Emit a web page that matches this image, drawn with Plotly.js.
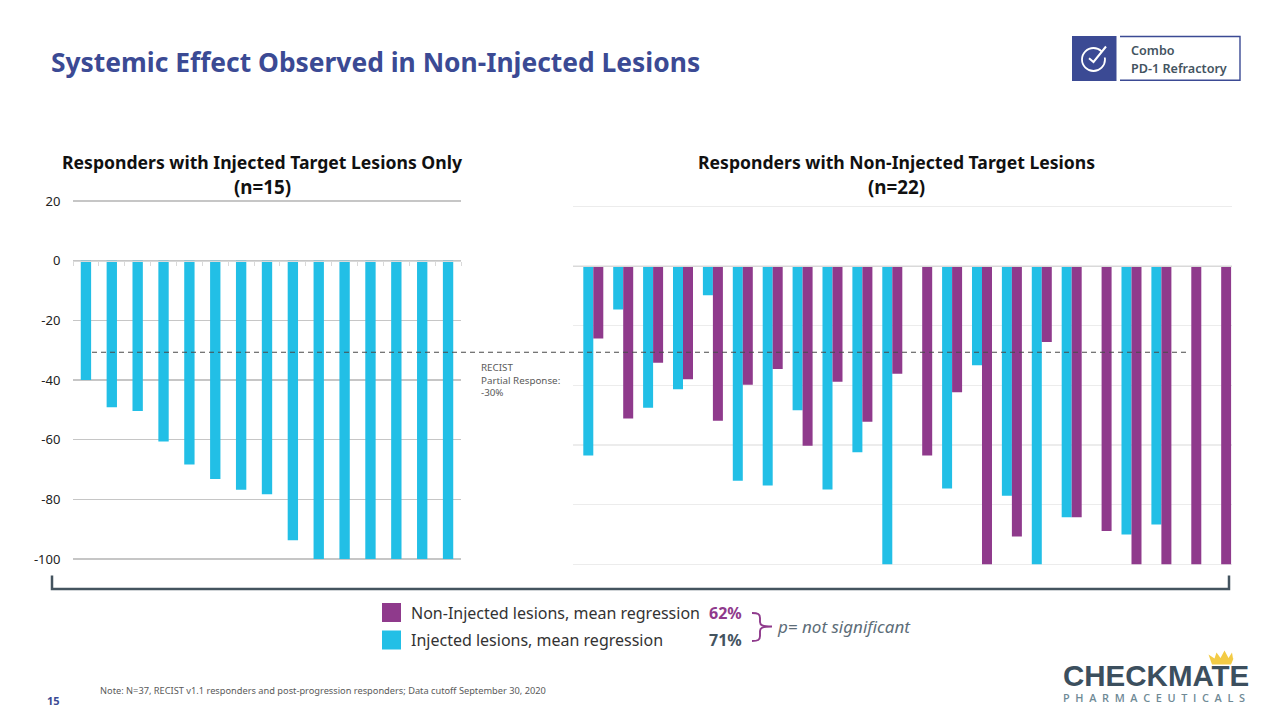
<!DOCTYPE html>
<html><head><meta charset="utf-8">
<script src="https://cdn.plot.ly/plotly-3.0.1.min.js"></script>
<style>html,body{margin:0;padding:0;background:#fff}#c{width:1280px;height:720px}</style></head>
<body><div id="c"></div>
<script>
const leftPatients = [1,2,3,4,5,6,7,8,9,10,11,12,13,14,15];
const leftInjected = [-40,-49.1,-50.4,-60.6,-68.3,-73.2,-76.8,-78.3,-93.7,-100,-100,-100,-100,-100,-100];
const rightPatients = [1,2,3,4,5,6,7,8,9,10,11,12,13,14,15,16,17,18,19,20,21,22];
const rightInjected = [-63.5,-14.6,-47.5,-41.3,-9.8,-72,-73.6,-48.4,-74.9,-62.4,-100,null,-74.6,-33.3,-77,-100,-84.2,null,-90,-86.7,null,null];
const rightNonInjected = [-24.3,-51.1,-32.4,-38,-51.9,-39.8,-34.5,-60.3,-38.8,-52.2,-36.1,-63.5,-42.3,-100,-90.7,-25.5,-84.2,-88.8,-100,-100,-100,-100];
const yTicks = [20,0,-20,-40,-60,-80,-100];
const BLUE='#22BFE6', PURPLE='#8F3A8C', NAVY='#3B4A94', SLATE='#44545F';
const FONT='"Noto Sans", sans-serif';
const px=x=>x/1280, py=y=>1-y/720;
const P=(s)=>s.replace(/(-?[\d.]+),(-?[\d.]+)/g,(m,a,b)=>px(+a)+','+py(+b));
const pathShape=(d,o)=>Object.assign({type:'path',xref:'paper',yref:'paper',path:P(d)},o);
const lineShape=(d,c,w,dash)=>pathShape(d,{line:{color:c,width:w,dash:dash||'solid'}});
const fillShape=(d,c)=>pathShape(d,{fillcolor:c,line:{width:0}});
const txt=(x,y,t,size,color,o)=>Object.assign({xref:'paper',yref:'paper',x:px(x-1),y:py(y),text:t,showarrow:false,xanchor:'left',yanchor:'middle',
  font:{family:FONT,size:size,color:color},borderpad:0},o||{});
const bold=(x,y,t,size,color,w,o)=>{const a=txt(x,y,t,size,color,o);a.font.weight=w||700;return a;};
const ctr=(x,y,t,s)=>bold(x,y,t,s,'#111',700,{xanchor:'center',x:px(x)});

const traces=[
 {type:'bar',x:leftPatients,y:leftInjected,xaxis:'x',yaxis:'y',marker:{color:BLUE},width:0.4,hoverinfo:'y',showlegend:false},
 {type:'bar',x:rightPatients,y:rightInjected,xaxis:'x2',yaxis:'y2',marker:{color:BLUE},offsetgroup:'a',hoverinfo:'y',showlegend:false},
 {type:'bar',x:rightPatients,y:rightNonInjected,xaxis:'x2',yaxis:'y2',marker:{color:PURPLE},offsetgroup:'b',hoverinfo:'y',showlegend:false}
];
const U=2.983;
const layout={
 width:1280,height:720,margin:{l:0,r:0,t:0,b:0},paper_bgcolor:'#fff',plot_bgcolor:'rgba(0,0,0,0)',showlegend:false,
 barmode:'group',bargap:0.331,bargroupgap:0,
 font:{family:FONT},
 xaxis:{domain:[px(73),px(461)],range:[0.5,15.5],anchor:'free',position:py(261),showgrid:false,zeroline:false,showticklabels:false,
   tick0:0.5,dtick:1,ticks:'outside',ticklen:4,tickcolor:'#d9d9d9',tickwidth:1,showline:true,linecolor:'#d9d9d9',linewidth:1},
 yaxis:{domain:[py(559+U),py(201-U)],range:[-101,21],tickvals:yTicks,ticktext:yTicks.map(String),showgrid:true,gridcolor:'#c6c6c6',gridwidth:1.3,zeroline:false,
   showline:false,ticks:'outside',ticklen:9,tickcolor:'rgba(0,0,0,0)',tickfont:{family:FONT,size:13,color:'#222'},anchor:'x'},
 xaxis2:{domain:[px(573.3),px(1231.5)],range:[0.331,22.345],anchor:'free',position:py(266.3),showgrid:false,zeroline:false,showticklabels:false,
   ticks:'',showline:true,linecolor:'#d9d9d9',linewidth:1},
 yaxis2:{domain:[py(564.3+U),py(206.3-U)],range:[-101,21],tickvals:yTicks,showticklabels:false,showgrid:true,gridcolor:'#ececec',gridwidth:1.2,zeroline:false,showline:false,anchor:'x2'},
 shapes:[
  lineShape('M92,352.3 L1188,352.3',"#4a4a4a",1.1,'5px,4px'),
  lineShape('M52,575.5 L52,589 L1229,589 L1229,575.5',SLATE,2.5),
  fillShape('M382,603 L401,603 L401,622 L382,622 Z',PURPLE),
  fillShape('M382,630.5 L401,630.5 L401,649.5 L382,649.5 Z',BLUE),
  lineShape('M752,613 C758,613 760,614 760,618 L760,622 C760,625 762,626.5 772,626.5 M772,626.5 C762,626.5 760,628 760,631 L760,636 C760,640 758,641 752,641',PURPLE,1.9),
  fillShape('M1072,36 L1116.5,36 L1116.5,81 L1072,81 Z',NAVY),
  lineShape('M1120,36.5 L1240,36.5 L1240,80.3 L1120,80.3',NAVY,1.4),
  lineShape('M1101.6,51.4 C1099.5,49.3 1096.6,48 1093.5,48 C1087.15,48 1082,53.15 1082,59.5 C1082,65.85 1087.15,71 1093.5,71 C1099.85,71 1105,65.85 1105,59.5 L1104.8,57.5',"#fff",1.8),
  lineShape('M1089,58.2 L1093.5,62 L1106,46.5',"#fff",2),
  fillShape('M1212,664.5 L1208.5,654.5 L1214.5,658.5 L1216.5,652.5 L1220.5,658 L1224.5,650.5 L1228.5,658 L1232,652.5 L1233,658.5 L1233.5,658.5 L1231,664.5 Z',"#F3CB45")
 ],
 annotations:[
  bold(51,62,'Systemic Effect Observed in Non-Injected Lesions',26.4,NAVY,700),
  ctr(262,162,'Responders with Injected Target Lesions Only',17.6),
  ctr(262,187,'(n=15)',18.8),
  ctr(896,162,'Responders with Non-Injected Target Lesions',17.6),
  ctr(896,187,'(n=22)',18.8),
  txt(481,367,'RECIST',9.8,'#5a5a5a'),
  txt(481,380,'Partial Response:',9.8,'#5a5a5a'),
  txt(481,393,'-30%',9.8,'#5a5a5a'),
  txt(411,613,'Non-Injected lesions, mean regression',16,'#333'),
  txt(411,640,'Injected lesions, mean regression',16,'#333'),
  bold(709,613,'62%',16,PURPLE,700),
  bold(709,640,'71%',16,SLATE,700),
  txt(777,626,'<i>p= not significant</i>',17,'#5d6d78'),
  bold(1131,50.5,'Combo',12.6,SLATE,600),
  bold(1131,68,'PD-1 Refractory',12.6,SLATE,600),
  txt(100,690,'Note: N=37, RECIST v1.1 responders and post-progression responders; Data cutoff September 30, 2020',9.25,'#5a5a5a'),
  bold(47,700,'15',11,NAVY,700),
  {xref:'paper',yref:'paper',x:px(1061),y:py(675),text:'CHECKMATE',showarrow:false,xanchor:'left',yanchor:'middle',font:{family:'"Liberation Sans", sans-serif',size:29.5,color:'#3C4F5E',weight:700}},
  {xref:'paper',yref:'paper',x:px(1061),y:py(697),text:'P&nbsp; H&nbsp; A&nbsp; R&nbsp; M&nbsp; A&nbsp; C&nbsp; E&nbsp; U&nbsp; T&nbsp; I&nbsp; C&nbsp; A&nbsp; L&nbsp; S',showarrow:false,xanchor:'left',yanchor:'middle',font:{family:'"Open Sans", sans-serif',size:10.9,color:'#6F8A96',weight:600}}
 ]
};
Plotly.newPlot('c',traces,layout,{displayModeBar:false,staticPlot:true});
</script></body></html>
